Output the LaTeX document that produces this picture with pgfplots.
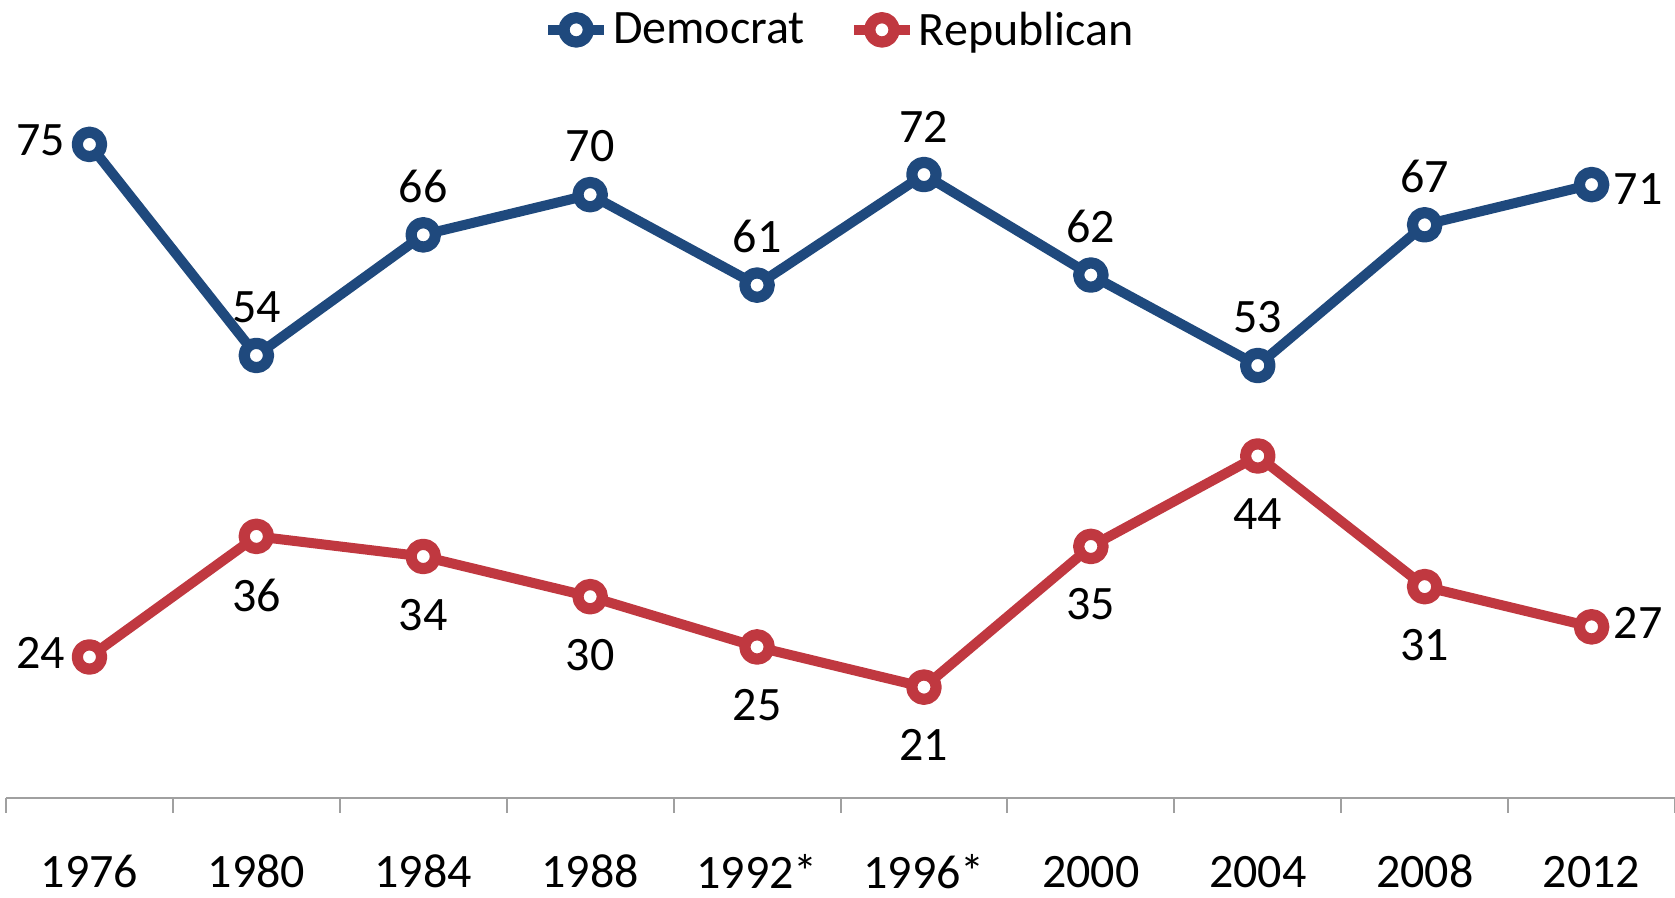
\documentclass[border=0pt]{standalone}
\usepackage{fontspec}
\setmainfont{Carlito}
\usepackage{pgfplots}
\usepackage{pgfplotstable}
\pgfplotsset{compat=1.18}

\definecolor{dem}{RGB}{31,73,125}
\definecolor{rep}{RGB}{192,56,64}
\definecolor{axgray}{RGB}{160,160,160}

% x = category index (0 = 1976 ... 9 = 2012)
\pgfplotstableread{
x y
0 75
1 54
2 66
3 70
4 61
5 72
6 62
7 53
8 67
9 71
}\dem

\pgfplotstableread{
x y
0 24
1 36
2 34
3 30
4 25
5 21
6 35
7 44
8 31
9 27
}\rep

\pgfplotsset{
  lab/.style={draw=none, mark=none, forget plot, nodes near coords,
    nodes near coords style={inner sep=0pt, text=black, #1}},
  inner/.style={restrict x to domain=0.5:8.5},
  first/.style={restrict x to domain=-0.1:0.1},
  last/.style={restrict x to domain=8.9:9.1},
}

\begin{document}
\begin{tikzpicture}[font=\fontsize{24}{28}\selectfont]
\path[use as bounding box] (-3pt,-50.15pt) rectangle (834.5pt,398.85pt);
\begin{axis}[
    at={(0,0)}, anchor=south west,
    scale only axis,
    width=834.5pt, height=376.9pt,
    xmin=-0.5, xmax=9.5,
    ymin=10, ymax=85,
    clip=false,
    axis x line=bottom,
    axis y line=none,
    x axis line style={-, draw=axgray, line width=1pt},
    xtick={0,...,9},
    xticklabels={1976,1980,1984,1988,1992*,1996*,2000,2004,2008,2012},
    major tick length=0pt,
    minor xtick={-0.5,0.5,...,9.5},
    minor tick length=7.5pt,
    tick align=outside,
    minor tick style={draw=axgray, line width=1pt},
    xticklabel style={anchor=center, yshift=-37pt, inner sep=0pt},
    /pgf/number format/assume math mode=true,
    legend style={at={(0.5,1.0186)}, anchor=center, draw=none, fill=none,
      legend columns=-1, inner sep=0pt,
      /tikz/every even column/.append style={column sep=20pt}},
    legend cell align=left,
    legend image code/.code={
      \draw[mark repeat=2, mark phase=2, #1]
        plot coordinates {(0pt,0pt) (14pt,0pt) (28pt,0pt)};},
    ]
\addplot[dem, line width=5pt, line join=round, mark=*, mark size=6.1pt,
  mark options={fill=white, draw=dem, line width=5.6pt}]
  table[x=x, y=y] {\dem};
\addplot[rep, line width=5pt, line join=round, mark=*, mark size=6.1pt,
  mark options={fill=white, draw=rep, line width=5.6pt}]
  table[x=x, y=y] {\rep};
\legend{Democrat, Republican}

% data labels
\addplot[lab={anchor=south, yshift=16pt}, inner] table[x=x, y=y] {\dem};
\addplot[lab={anchor=east, xshift=-12pt, yshift=2pt}, first] table[x=x, y=y] {\dem};
\addplot[lab={anchor=west, xshift=11pt, yshift=-2pt}, last] table[x=x, y=y] {\dem};
\addplot[lab={anchor=north, yshift=-21pt}, inner] table[x=x, y=y] {\rep};
\addplot[lab={anchor=east, xshift=-12pt, yshift=2pt}, first] table[x=x, y=y] {\rep};
\addplot[lab={anchor=west, xshift=11pt, yshift=2pt}, last] table[x=x, y=y] {\rep};
\end{axis}
\end{tikzpicture}
\end{document}
